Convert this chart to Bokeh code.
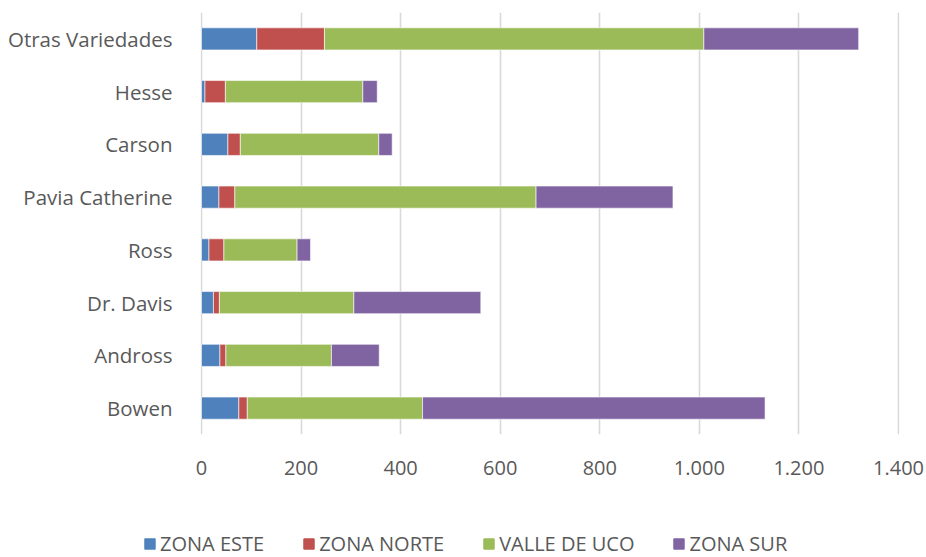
from bokeh.plotting import figure
from bokeh.layouts import column, row
from bokeh.models import FactorRange, Range1d, FixedTicker, Legend, LegendItem
from bokeh.embed import file_html
from bokeh.resources import INLINE

categories = ["Bowen", "Andross", "Dr. Davis", "Ross", "Pavia Catherine", "Carson", "Hesse", "Otras Variedades"]
zona_este = [75, 37, 24, 15, 35, 53, 7, 111]
zona_norte = [17, 12, 12, 30, 32, 25, 41, 136]
valle_de_uco = [352, 212, 270, 147, 605, 278, 276, 762]
zona_sur = [688, 96, 255, 27, 275, 27, 29, 311]
series = ["ZONA ESTE", "ZONA NORTE", "VALLE DE UCO", "ZONA SUR"]
colors = ["#4F81BD", "#C0504D", "#9BBB59", "#8064A2"]
tick_values = [0, 200, 400, 600, 800, 1000, 1200, 1400]
tick_labels = ["0", "200", "400", "600", "800", "1.000", "1.200", "1.400"]

data = {"cat": categories, "ZONA ESTE": zona_este, "ZONA NORTE": zona_norte,
        "VALLE DE UCO": valle_de_uco, "ZONA SUR": zona_sur}

FONT = "Open Sans"
TXT = "#595959"

p = figure(width=926, height=480, y_range=FactorRange(*categories),
           x_range=Range1d(-2, 1402), output_backend="svg", toolbar_location=None,
           min_border_left=200, min_border_right=27, min_border_top=12, min_border_bottom=46)

p.hbar_stack(series, y="cat", height=0.42, color=colors, source=data,
             line_color="white", line_width=0.6)

p.xaxis.ticker = FixedTicker(ticks=tick_values)
p.xaxis.major_label_overrides = {v: l for v, l in zip(tick_values, tick_labels)}
p.xaxis.axis_line_color = None
p.xaxis.major_tick_line_color = None
p.xaxis.minor_tick_line_color = None
p.xaxis.major_label_standoff = 20
p.xaxis.major_label_text_font = FONT
p.xaxis.major_label_text_font_size = "20px"
p.xaxis.major_label_text_color = TXT

p.yaxis.axis_line_color = None
p.yaxis.major_tick_line_color = None
p.yaxis.minor_tick_line_color = None
p.yaxis.major_label_standoff = 22
p.yaxis.major_label_text_font = FONT
p.yaxis.major_label_text_font_size = "20.5px"
p.yaxis.major_label_text_color = TXT

p.ygrid.grid_line_color = None
p.xgrid.grid_line_color = "#D9D9D9"
p.xgrid.grid_line_width = 1.6
p.outline_line_color = None
p.y_range.range_padding = 0

# legend strip below the chart (its own figure)
lg = figure(width=926, height=77, x_range=Range1d(0, 1), y_range=Range1d(0, 1),
            output_backend="svg", toolbar_location=None,
            min_border_left=0, min_border_right=0, min_border_top=0, min_border_bottom=0)
lg.axis.visible = False
lg.grid.grid_line_color = None
lg.outline_line_color = None
# legend key renderers: placed outside the visible range so only the legend shows them
dummies = [lg.hbar(y=[-5], left=[0], right=[0.1], height=0.5, color=c) for c in colors]

legend = Legend(items=[LegendItem(label=s, renderers=[r]) for s, r in zip(series, dummies)],
                orientation="horizontal", location=(143, 0))
legend.border_line_color = None
legend.background_fill_alpha = 0
legend.padding = 0
legend.margin = 0
legend.spacing = 38
legend.glyph_width = 13
legend.glyph_height = 13
legend.label_standoff = 4
legend.label_text_font = FONT
legend.label_text_font_size = "20px"
legend.label_text_color = TXT
lg.add_layout(legend, "center")

layout = column(p, row(lg), spacing=0)
open("out.html", "w").write(file_html(layout, INLINE))
